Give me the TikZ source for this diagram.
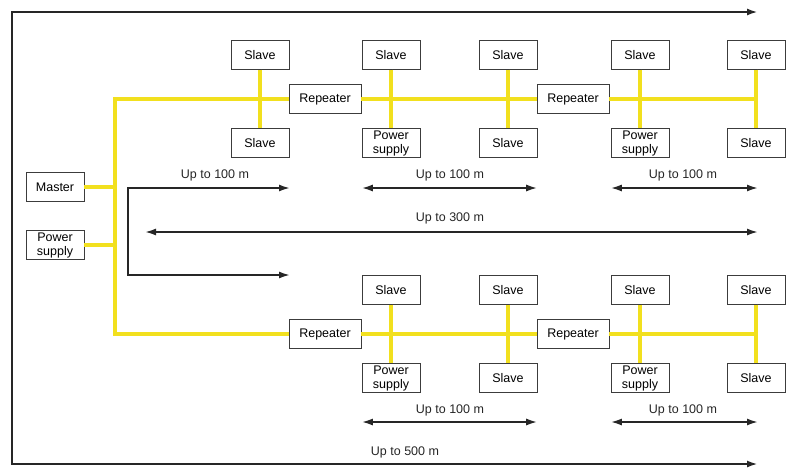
\documentclass[tikz,border=0pt]{standalone}
\usepackage{fontspec}
\setmainfont{Liberation Sans}
\definecolor{busyellow}{RGB}{242,224,30}
\definecolor{boxgray}{RGB}{60,60,60}
\usetikzlibrary{arrows.meta,positioning}

\begin{document}
\begin{tikzpicture}[x=1pt,y=-1pt,
		dev/.style={draw=boxgray, fill=white, minimum width=58pt, minimum height=29pt,
			inner sep=1pt, align=center, font=\fontsize{12.5}{14}\selectfont},
		rep/.style={dev, minimum width=72pt},
		bus/.style={line width=4pt, busyellow},
		dim/.style={line width=1.8pt, black!85, {Latex[length=11pt,width=7pt]}-{Latex[length=11pt,width=7pt]}},
		frame/.style={dim, line width=2.4pt},
		lab/.style={font=\fontsize{12.5}{14}\selectfont, text=black!85}
	]
	\useasboundingbox (0,0) rectangle (790,467);
	% left side
	\node[dev] (m) at (55,187) {Master};
	\node[dev] (ps0) at (55,245) {Power\\supply};
	\coordinate (tT) at (115,99);
	\coordinate (tB) at (115,334);
	% upper segment
	\node[dev] (s1t) at (260,55) {Slave};
	\node[dev] (s1b) at (260,143) {Slave};
	\node[rep] (r1) at (325,99) {Repeater};
	\node[dev] (s2t) at (391,55) {Slave};
	\node[dev] (s2b) at (391,143) {Power\\supply};
	\node[dev] (s3t) at (508,55) {Slave};
	\node[dev] (s3b) at (508,143) {Slave};
	\node[rep] (r2) at (573,99) {Repeater};
	\node[dev] (s4t) at (640,55) {Slave};
	\node[dev] (s4b) at (640,143) {Power\\supply};
	\node[dev] (s5t) at (756,55) {Slave};
	\node[dev] (s5b) at (756,143) {Slave};
	% lower segment
	\node[rep] (r3) at (325,334) {Repeater};
	\node[dev] (u2t) at (391,290) {Slave};
	\node[dev] (u2b) at (391,378) {Power\\supply};
	\node[dev] (u3t) at (508,290) {Slave};
	\node[dev] (u3b) at (508,378) {Slave};
	\node[rep] (r4) at (573,334) {Repeater};
	\node[dev] (u4t) at (640,290) {Slave};
	\node[dev] (u4b) at (640,378) {Power\\supply};
	\node[dev] (u5t) at (756,290) {Slave};
	\node[dev] (u5b) at (756,378) {Slave};
	% yellow cabling
	\draw[bus] (r1.west) -- (tT) -- (tB) -- (r3.west);
	\draw[bus] (m.east) -- (m.east -| tT);
	\draw[bus] (ps0.east) -- (ps0.east -| tT);
	\draw[bus] (r1.east) -- (r2.west);
	\draw[bus] (r2.east) -- (r2.east -| s5t.south);
	\draw[bus] (r3.east) -- (r4.west);
	\draw[bus] (r4.east) -- (r4.east -| u5t.south);
	\foreach \c in {s1,s2,s3,s4,s5,u2,u3,u4,u5}
		\draw[bus] (\c t.south) -- (\c b.north);
	% distances
	\coordinate (f1) at (758,12);
	\coordinate (f2) at (758,464);
	\draw[frame] (f1) -- (12,12) -- (12,464) -- (f2);
	\node[lab] (l500) at (405,452) {Up to 500 m};
	\coordinate (a1) at (290,188);
	\coordinate (a2) at (290,275);
	\draw[dim] (a1) -- (128,188) -- (128,275) -- (a2);
	\node[lab] (l100a) at (215,175) {Up to 100 m};
	\draw[dim] (s2b.west |- 0,188) -- (s3b.east |- 0,188);
	\node[lab] (l100b) at (450,175) {Up to 100 m};
	\draw[dim] (s4b.west |- 0,188) -- (758,188);
	\node[lab] (l100c) at (683,175) {Up to 100 m};
	\draw[dim] (145,232) -- (758,232);
	\node[lab] (l300) at (450,218) {Up to 300 m};
	\draw[dim] (u2b.west |- 0,422) -- (u3b.east |- 0,422);
	\node[lab] (l100d) at (450,410) {Up to 100 m};
	\draw[dim] (u4b.west |- 0,422) -- (758,422);
	\node[lab] (l100e) at (683,410) {Up to 100 m};
\end{tikzpicture}
\end{document}
